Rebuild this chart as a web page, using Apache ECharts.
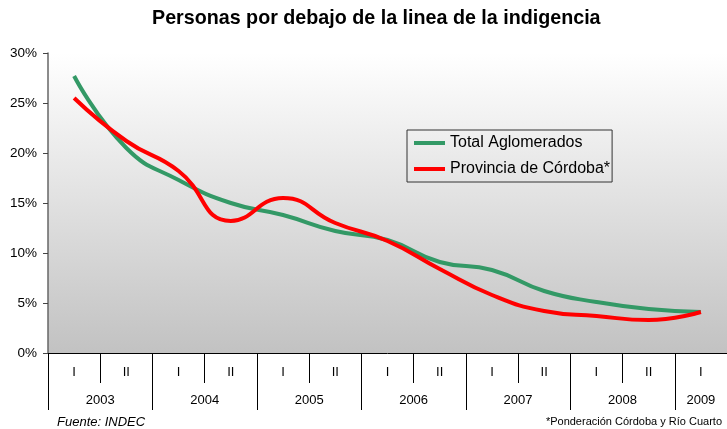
<!DOCTYPE html>
<html>
<head>
<meta charset="utf-8">
<script src="https://cdn.jsdelivr.net/npm/echarts@6.0.0/dist/echarts.min.js"></script>
<style>
html,body{margin:0;padding:0;background:#fff;}
#chart{width:727px;height:429px;}
</style>
</head>
<body>
<div id="chart"></div>
<script>
// ---- data ----
const semesters = ['I','II','I','II','I','II','I','II','I','II','I','II','I'];
const years = ['2003','2004','2005','2006','2007','2008','2009'];
const semestersPerYear = [2,2,2,2,2,2,1];
const totalAglomerados = [27.7, 20.5, 17.3, 15.0, 13.8, 12.2, 11.3, 9.1, 8.3, 6.2, 5.1, 4.4, 4.1];
const provinciaCordoba = [25.5, 21.2, 18.2, 13.2, 15.5, 13.0, 11.2, 8.4, 5.8, 4.2, 3.7, 3.3, 4.1];
const yTicks = [0, 5, 10, 15, 20, 25, 30];

// year boundaries / centers on a 0..N scale
const yearBounds = [0];
const yearCenters = [];
semestersPerYear.forEach(function (n) {
  const start = yearBounds[yearBounds.length - 1];
  yearCenters.push(start + n / 2);
  yearBounds.push(start + n);
});

const FONT = '"Liberation Sans", Arial, sans-serif';
const chart = echarts.init(document.getElementById('chart'), null, {renderer: 'canvas'});

chart.setOption({
  animation: false,
  backgroundColor: '#ffffff',
  textStyle: {fontFamily: FONT, color: '#000'},
  title: {
    text: 'Personas por debajo de la linea de la indigencia',
    left: 152, top: 9, padding: 0,
    textStyle: {fontFamily: FONT, fontSize: 19.7, fontWeight: 'bold', color: '#000'}
  },
  legend: {
    orient: 'vertical',
    left: 407, top: 130,
    padding: [5, 2, 5, 5],
    itemWidth: 31, itemHeight: 16, itemGap: 10,
    borderColor: '#333', borderWidth: 1,
    itemStyle: {opacity: 0},
    lineStyle: {width: 4},
    textStyle: {fontFamily: FONT, fontSize: 16, color: '#000'},
    data: ['Total Aglomerados', 'Provincia de Córdoba*']
  },
  grid: {
    left: 48, top: 53, width: 686, height: 300,
    show: true, borderWidth: 0,
    backgroundColor: {
      type: 'linear', x: 0, y: 0, x2: 0, y2: 1,
      colorStops: [{offset: 0, color: '#ffffff'}, {offset: 1, color: '#c2c2c2'}]
    }
  },
  xAxis: [{
    type: 'category',
    data: semesters,
    boundaryGap: true,
    position: 'bottom',
    axisLine: {show: true, lineStyle: {color: '#000', width: 1}},
    axisTick: {show: true, interval: 0, length: 30, lineStyle: {color: '#000', width: 1}},
    axisLabel: {interval: 0, margin: 13, fontSize: 13, fontFamily: FONT, color: '#000'},
    splitLine: {show: false}
  }, {
    type: 'value',
    min: 0, max: semesters.length,
    position: 'bottom',
    axisLine: {show: false},
    axisTick: {show: true, customValues: yearBounds, length: 57, lineStyle: {color: '#000', width: 1}},
    axisLabel: {
      show: true, customValues: yearCenters, margin: 41, fontSize: 13, fontFamily: FONT, color: '#000',
      formatter: function (v) {
        const i = yearCenters.findIndex(function (c) { return Math.abs(c - v) < 1e-6; });
        return i >= 0 ? years[i] : '';
      }
    },
    splitLine: {show: false}
  }],
  yAxis: {
    type: 'value',
    min: 0, max: 30, interval: 5,
    axisLine: {show: true, lineStyle: {color: '#666', width: 1.5}},
    axisTick: {show: true, length: 5, lineStyle: {color: '#444'}},
    axisLabel: {margin: 11, fontSize: 13.5, fontFamily: FONT, color: '#000', formatter: '{value}%',
      customValues: yTicks},
    splitLine: {show: false}
  },
  series: [{
    name: 'Total Aglomerados',
    type: 'line',
    data: totalAglomerados,
    smooth: 0.5,
    symbol: 'none',
    lineStyle: {color: '#339966', width: 4},
    itemStyle: {color: '#339966'}
  }, {
    name: 'Provincia de Córdoba*',
    type: 'line',
    data: provinciaCordoba,
    smooth: 0.5,
    symbol: 'none',
    lineStyle: {color: '#ff0000', width: 4},
    itemStyle: {color: '#ff0000'}
  }],
  graphic: [{
    type: 'text', left: 57, top: 416,
    style: {text: 'Fuente: INDEC', fontFamily: FONT, fontSize: 13, fontStyle: 'italic', fill: '#000'}
  }, {
    type: 'text', right: 5, top: 416,
    style: {text: '*Ponderación Córdoba y Río Cuarto', fontFamily: FONT, fontSize: 11, fill: '#000'}
  }]
});
</script>
</body>
</html>
